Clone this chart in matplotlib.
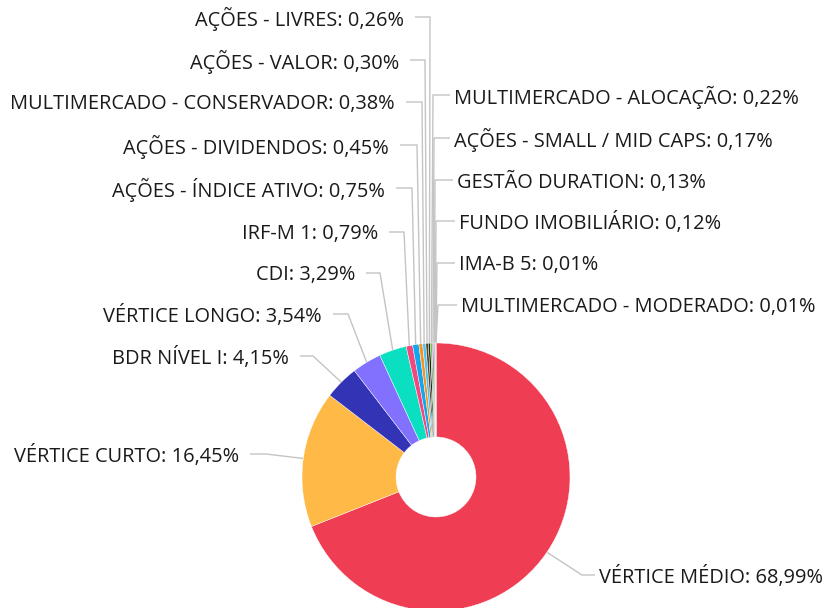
import numpy as np
import matplotlib
matplotlib.use("Agg")
import matplotlib.pyplot as plt

# dados do gráfico (ordem horária a partir do topo)
categorias = [
    "VÉRTICE MÉDIO", "VÉRTICE CURTO", "BDR NÍVEL I", "VÉRTICE LONGO", "CDI",
    "IRF-M 1", "AÇÕES - ÍNDICE ATIVO", "AÇÕES - DIVIDENDOS",
    "MULTIMERCADO - CONSERVADOR", "AÇÕES - VALOR", "AÇÕES - LIVRES",
    "MULTIMERCADO - ALOCAÇÃO", "AÇÕES - SMALL / MID CAPS", "GESTÃO DURATION",
    "FUNDO IMOBILIÁRIO", "IMA-B 5", "MULTIMERCADO - MODERADO",
]
percentuais = [68.99, 16.45, 4.15, 3.54, 3.29, 0.79, 0.75, 0.45, 0.38,
               0.30, 0.26, 0.22, 0.17, 0.13, 0.12, 0.01, 0.01]
cores = ["#ef3e54", "#ffb946", "#3333b5", "#8270ff", "#0adfc2", "#f2487e",
         "#13a6f0", "#f7941d", "#4fc3f7", "#5b4a2a", "#222222", "#6bcb3a",
         "#9b59b6", "#7f8c8d", "#2c3e50", "#16a085", "#c0392b"]

# posição dos rótulos (pixels, y a partir do topo): lado, y da linha, x do fim da linha, x do cotovelo
rotulos = [
    ("R", 575, 595, 582),
    ("L", 454, 250, 266),
    ("L", 356, 300, 313),
    ("L", 314, 333, 348),
    ("L", 273, 366, 380),
    ("L", 232, 389, 404),
    ("L", 188, 396, 412),
    ("L", 145, 400, 417),
    ("L", 102, 406, 422),
    ("L", 60, 410, 425),
    ("L", 17, 415, 430),
    ("R", 95, 450, 433),
    ("R", 138, 450, 434),
    ("R", 180, 453, 435),
    ("R", 221, 455, 436),
    ("R", 263, 455, 437),
    ("R", 305, 457, 438),
]

W, H = 831, 608
cx, cy = 436, 477
raio, raio_int = 134, 40

plt.rcParams['font.family'] = ['Open Sans', 'DejaVu Sans']

fig = plt.figure(figsize=(W / 100, H / 100), dpi=100)
ax = fig.add_axes([0, 0, 1, 1])

ax.pie(percentuais, colors=cores, startangle=90, counterclock=False,
       radius=raio, center=(cx, H - cy),
       wedgeprops=dict(width=raio - raio_int, edgecolor="white", linewidth=0.3))

total = sum(percentuais)
acumulado = 0
for nome, valor, (lado, ly, lx, ex) in zip(categorias, percentuais, rotulos):
    meio = acumulado + valor / 2
    acumulado += valor
    ang = np.radians(90 - 360 * meio / total)
    px = cx + raio * np.cos(ang)
    py = cy - raio * np.sin(ang)
    ax.plot([px, ex, lx], [H - py, H - ly, H - ly], color="#c4c4c4", lw=1.0,
            solid_capstyle="butt", zorder=0)
    texto = f"{nome}: {valor:.2f}%".replace(".", ",")
    if lado == "L":
        ax.text(lx - 11, H - ly - 2, texto, ha="right", va="center",
                fontsize=14.4, color="#1a1a1a")
    else:
        ax.text(lx + 4, H - ly - 2, texto, ha="left", va="center",
                fontsize=14.4, color="#1a1a1a")

ax.set_xlim(0, W)
ax.set_ylim(0, H)
ax.set_aspect("equal")
ax.axis("off")

fig.savefig("out.png", dpi=100)
